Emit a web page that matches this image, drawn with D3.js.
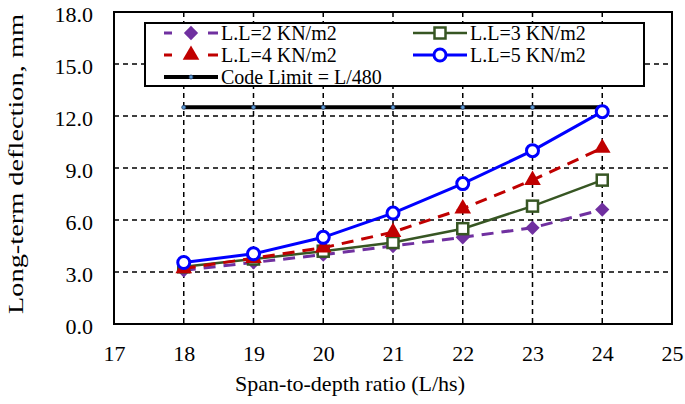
<!DOCTYPE html>
<html>
<head>
<meta charset="utf-8">
<script src="https://cdn.jsdelivr.net/npm/d3@7"></script>
<style>
  html, body { margin: 0; padding: 0; background: #fff; }
  svg text { font-family: "Liberation Serif", "Times New Roman", serif; fill: #000; }
</style>
</head>
<body>
<svg id="chart" width="685" height="404"></svg>
<script>
// ---- data ----
const spanRatios = [18, 19, 20, 21, 22, 23, 24];
const ll2 = [3.1, 3.55, 4.0, 4.5, 5.0, 5.55, 6.6];
const ll3 = [3.3, 3.75, 4.2, 4.7, 5.5, 6.8, 8.3];
const ll4 = [3.2, 3.8, 4.4, 5.3, 6.65, 8.3, 10.15];
const ll5 = [3.55, 4.05, 5.0, 6.4, 8.1, 10.0, 12.25];
const codeLimit = [12.5, 12.5, 12.5, 12.5, 12.5, 12.5, 12.5];
const xTicks = [17, 18, 19, 20, 21, 22, 23, 24, 25];
const yTicks = [0, 3, 6, 9, 12, 15, 18];
const seriesNames = ["L.L=2 KN/m2", "L.L=3 KN/m2", "L.L=4 KN/m2", "L.L=5 KN/m2", "Code Limit = L/480"];
const xTitle = "Span-to-depth ratio (L/hs)";
const yTitle = "Long-term deflection, mm";

const FONT = "Liberation Serif";
const svg = d3.select("#chart");
const L = 114, R = 672, T = 12, B = 324;
const x = d3.scaleLinear().domain([17, 25]).range([L, R]);
const y = d3.scaleLinear().domain([0, 18]).range([B, T]);

// grid
const grid = svg.append("g");
grid.selectAll(".hg").data(yTicks.filter(v => v > 0 && v < 18)).enter().append("line")
  .attr("x1", L).attr("x2", R).attr("y1", d => y(d)).attr("y2", d => y(d))
  .attr("stroke", "#000").attr("stroke-width", 1.5).attr("stroke-dasharray", "5,4");
grid.selectAll(".vg").data(xTicks.filter(v => v > 17 && v < 25)).enter().append("line")
  .attr("y1", T).attr("y2", B).attr("x1", d => x(d)).attr("x2", d => x(d))
  .attr("stroke", "#000").attr("stroke-width", 1.5).attr("stroke-dasharray", "5,4");

// axes (labels only)
const xAxis = d3.axisBottom(x).tickValues(xTicks).tickSize(0).tickPadding(21).tickFormat(d3.format("d"));
const gx = svg.append("g").attr("transform", `translate(0,${B})`).call(xAxis);
gx.attr("font-family", FONT).attr("font-size", 22);
gx.select(".domain").remove();
gx.selectAll("text").attr("font-family", FONT).attr("font-size", 22).attr("fill", "#000");

const yAxis = d3.axisLeft(y).tickValues(yTicks).tickSize(0).tickPadding(21).tickFormat(d3.format(".1f"));
const gy = svg.append("g").attr("transform", `translate(${L},0)`).call(yAxis);
gy.attr("font-family", FONT).attr("font-size", 22);
gy.select(".domain").remove();
gy.selectAll("text").attr("font-family", FONT).attr("font-size", 22).attr("fill", "#000").attr("dy", "0.42em");

// frame
svg.append("rect").attr("x", L).attr("y", T).attr("width", R - L).attr("height", B - T)
  .attr("fill", "none").attr("stroke", "#000").attr("stroke-width", 2);

// axis titles
svg.append("text").attr("x", 350).attr("y", 391).attr("text-anchor", "middle")
  .attr("font-family", FONT).attr("font-size", 22)
  .attr("textLength", 230).attr("lengthAdjust", "spacingAndGlyphs").text(xTitle);
svg.append("text").attr("transform", `translate(23,164) rotate(-90)`)
  .attr("text-anchor", "middle").attr("font-family", FONT).attr("font-size", 21)
  .attr("textLength", 300).attr("lengthAdjust", "spacingAndGlyphs").text(yTitle);

const line = d3.line().x((d, i) => x(spanRatios[i])).y(d => y(d));

const series = [
  { name: seriesNames[0], data: ll2, color: "#7030A0", width: 3, dash: "12,8", marker: "diamond" },
  { name: seriesNames[1], data: ll3, color: "#375623", width: 2.5, dash: null, marker: "square" },
  { name: seriesNames[2], data: ll4, color: "#C00000", width: 3, dash: "12,8", marker: "triangle" },
  { name: seriesNames[3], data: ll5, color: "#0000FF", width: 3, dash: null, marker: "circle" },
  { name: seriesNames[4], data: codeLimit, color: "#000", width: 4, dash: null, marker: "dot" }
];

function drawMarker(g, type, color, cx, cy) {
  if (type === "diamond") {
    g.append("path").attr("d", d3.symbol().type(d3.symbolDiamond2).size(130)())
      .attr("transform", `translate(${cx},${cy})`).attr("fill", color);
  } else if (type === "square") {
    g.append("rect").attr("x", cx - 5.5).attr("y", cy - 5.5).attr("width", 11).attr("height", 11)
      .attr("fill", "#fff").attr("stroke", color).attr("stroke-width", 2.5);
  } else if (type === "triangle") {
    g.append("path").attr("d", d3.symbol().type(d3.symbolTriangle).size(120)())
      .attr("transform", `translate(${cx},${cy})`).attr("fill", color);
  } else if (type === "circle") {
    g.append("circle").attr("cx", cx).attr("cy", cy).attr("r", 6)
      .attr("fill", "#fff").attr("stroke", color).attr("stroke-width", 3);
  } else if (type === "dot") {
    g.append("circle").attr("cx", cx).attr("cy", cy).attr("r", 2)
      .attr("fill", "#5B9BD5").attr("stroke", "#1F3864").attr("stroke-width", 0.8);
  }
}

// draw code limit first, then series
const order = [4, 0, 1, 2, 3];
order.forEach(k => {
  const s = series[k];
  const g = svg.append("g");
  g.append("path").attr("d", line(s.data)).attr("fill", "none")
    .attr("stroke", s.color).attr("stroke-width", s.width)
    .attr("stroke-dasharray", s.dash);
  s.data.forEach((v, i) => drawMarker(g, s.marker, s.color, x(spanRatios[i]), y(v)));
});

// legend
const lg = svg.append("g");
lg.append("rect").attr("x", 145).attr("y", 23).attr("width", 644 - 145).attr("height", 63)
  .attr("fill", "#fff").attr("stroke", "#000").attr("stroke-width", 2);
const legPos = [
  { x: 164, y: 33 }, { x: 413, y: 33 }, { x: 164, y: 55 }, { x: 413, y: 55 }, { x: 164, y: 77 }
];
series.forEach((s, k) => {
  const p = legPos[k];
  const g = lg.append("g");
  g.append("line").attr("x1", p.x).attr("x2", p.x + 54).attr("y1", p.y).attr("y2", p.y)
    .attr("stroke", s.color).attr("stroke-width", s.width)
    .attr("stroke-dasharray", s.dash ? "8,36,10" : null);
  drawMarker(g, s.marker, s.color, p.x + 27, p.y);
  g.append("text").attr("x", p.x + 57).attr("y", p.y + 7).attr("font-family", FONT)
    .attr("font-size", 20).text(s.name);
});
</script>
</body>
</html>
